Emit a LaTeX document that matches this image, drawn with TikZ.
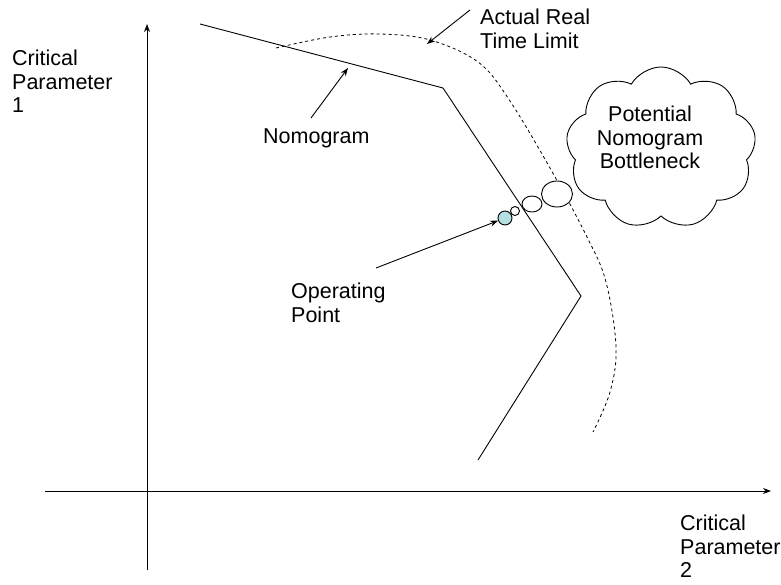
\documentclass[tikz,border=0pt]{standalone}
\usepackage{fontspec}
\setmainfont{Liberation Sans}
\usetikzlibrary{arrows.meta,shapes.symbols,shapes.geometric}
\definecolor{opfill}{RGB}{180,224,226}
\begin{document}
\begin{tikzpicture}[x=1pt,y=-1pt,
  txt/.style={align=left,inner sep=0pt,font=\fontsize{21.5}{23.5}\selectfont},
  ln/.style={line width=0.9pt},
  dashln/.style={line width=0.8pt,dash pattern=on 3pt off 3pt},
  arr/.style={line width=0.9pt,-{Stealth[length=8pt,width=6pt]}},
  bubble/.style={draw,line width=0.9pt,fill=white,inner sep=0pt}]
\useasboundingbox (0,0) rectangle (781,584);
% axes
\coordinate (yb) at (147,570);
\coordinate (yt) at (147,24);
\coordinate (xl) at (45,491);
\coordinate (xr) at (771,491);
\draw[arr] (yb) -- (yt);
\draw[arr] (xl) -- (xr);
% nomogram
\coordinate (n1) at (200,24);
\coordinate (n2) at (443,88);
\coordinate (n3) at (581,296);
\coordinate (n4) at (478,460);
\draw[ln] (n1) -- (n2) -- (n3) -- (n4);
% actual real time limit
\draw[dashln] plot[smooth,tension=0.6] coordinates {(276,48) (330,37) (380,34) (430,40) (478,62) (508,98) (550,168) (587,237) (606,282) (616,347) (610,392) (593,432)};
% thought bubbles
\node[bubble,ellipse,minimum width=31pt,minimum height=26pt] (b3) at (557,194) {};
\node[bubble,ellipse,minimum width=20pt,minimum height=16pt] (b2) at (532,204) {};
\node[bubble,circle,minimum size=9pt] (b1) at (515,211) {};
\node[draw,line width=0.9pt,fill=opfill,circle,inner sep=0pt,minimum size=14pt] (op) at (505,218) {};
% cloud
\node[draw,line width=0.9pt,cloud,cloud puffs=9,cloud puff arc=120,aspect=1.2,minimum width=190pt,minimum height=162pt,inner sep=0pt] (cloud) at (661,148) {};
\node[txt,align=center,anchor=north] (ctext) at (650,106) {Potential\\Nomogram\\Bottleneck};
% labels
\node[txt,anchor=north west] (cp1) at (12,50) {Critical\\Parameter\\1};
\node[txt,anchor=north west] (cp2) at (680,515) {Critical\\Parameter\\2};
\node[txt,anchor=north west] (nomo) at (263,129) {Nomogram};
\node[txt,anchor=north west] (oppt) at (291,283) {Operating\\Point};
\node[txt,anchor=north west] (artl) at (480,9) {Actual Real\\Time Limit};
% pointer arrows
\coordinate (nomoS) at (311,118);
\coordinate (nomoT) at (348,68);
\coordinate (artlS) at (470,10);
\coordinate (artlT) at (427,44);
\coordinate (opS) at (376,268);
\draw[arr] (nomoS) -- (nomoT);
\draw[arr] (artlS) -- (artlT);
\draw[arr] (opS) -- (op);
\end{tikzpicture}
\end{document}
